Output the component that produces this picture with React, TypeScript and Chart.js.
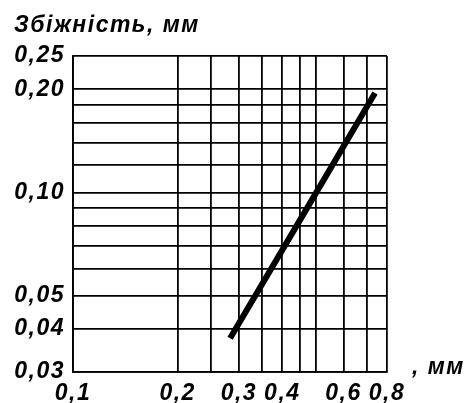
import React, { useEffect, useRef } from "react";
import { Chart, registerables } from "chart.js";

Chart.register(...registerables);

const xGrid = [0.1, 0.2, 0.25, 0.3, 0.35, 0.4, 0.45, 0.5, 0.6, 0.7, 0.8];
const xLabeled = [0.1, 0.2, 0.3, 0.4, 0.6, 0.8];
const yGrid = [0.03, 0.04, 0.05, 0.06, 0.07, 0.08, 0.09, 0.1, 0.12, 0.14, 0.16, 0.18, 0.2, 0.25];
const yLabeled = [0.03, 0.04, 0.05, 0.1, 0.2, 0.25];

const lineX = [0.283, 0.48, 0.739];
const lineY = [0.0376, 0.093, 0.195];

const titleText = "Збіжність, мм";
const xUnitText = ", мм";

const FONT_FAMILY = '"Liberation Sans", Arial, sans-serif';
const FONT_SIZE = 23;
const LETTER_SPACING = "1.5px";

function fmt(v: number, decimals: number) {
  return v.toFixed(decimals).replace(".", ",");
}

export default function App() {
  const ref = useRef<HTMLCanvasElement | null>(null);

  useEffect(() => {
    if (!ref.current) return;
    const spacingPlugin = {
      id: "spacing",
      beforeInit(chart: any) {
        chart.ctx.letterSpacing = LETTER_SPACING;
      },
      beforeUpdate(chart: any) {
        chart.ctx.letterSpacing = LETTER_SPACING;
      },
      beforeDraw(chart: any) {
        chart.ctx.letterSpacing = LETTER_SPACING;
      },
    };
    const textPlugin = {
      id: "texts",
      afterDraw(chart: any) {
        const ctx = chart.ctx;
        ctx.save();
        ctx.letterSpacing = LETTER_SPACING;
        ctx.fillStyle = "#000";
        ctx.font = `italic bold ${FONT_SIZE}px ${FONT_FAMILY}`;
        ctx.textAlign = "left";
        ctx.textBaseline = "alphabetic";
        ctx.fillText(titleText, 14, 32);
        ctx.fillText(xUnitText, 412, 374);
        ctx.restore();
      },
    };
    const tickFont = { family: FONT_FAMILY, size: FONT_SIZE, style: "italic", weight: "bold" };
    const chart = new Chart(ref.current, {
      type: "scatter",
      data: {
        datasets: [
          {
            data: lineX.map((x, i) => ({ x, y: lineY[i] })),
            showLine: true,
            borderColor: "#000",
            backgroundColor: "#000",
            borderWidth: 6,
            pointRadius: 0,
            borderCapStyle: "butt",
          },
        ],
      },
      options: {
        animation: false,
        responsive: false,
        events: [],
        layout: { padding: { top: 56, left: 0, right: 83, bottom: 0 } },
        plugins: { legend: { display: false }, tooltip: { enabled: false }, title: { display: false } },
        scales: {
          x: {
            type: "logarithmic",
            min: 0.1,
            max: 0.8,
            afterBuildTicks: (s: any) => {
              s.ticks = xGrid.map((v) => ({ value: v }));
            },
            afterFit: (s: any) => {
              s.height = 31;
            },
            grid: { color: "#000", lineWidth: 1.8, drawTicks: false },
            border: { display: true, color: "#000", width: 1.8 },
            ticks: {
              autoSkip: false,
              maxRotation: 0,
              padding: 8,
              color: "#000",
              font: tickFont,
              callback: (v: any) => {
                const n = Number(v);
                return xLabeled.some((l) => Math.abs(l - n) < 1e-9) ? fmt(n, 1) : "";
              },
            },
          },
          y: {
            type: "logarithmic",
            min: 0.03,
            max: 0.25,
            afterBuildTicks: (s: any) => {
              s.ticks = yGrid.map((v) => ({ value: v }));
            },
            afterFit: (s: any) => {
              s.width = 73;
            },
            grid: { color: "#000", lineWidth: 1.8, drawTicks: false },
            border: { display: true, color: "#000", width: 1.8 },
            ticks: {
              autoSkip: false,
              padding: 8,
              color: "#000",
              font: tickFont,
              callback: (v: any) => {
                const n = Number(v);
                return yLabeled.some((l) => Math.abs(l - n) < 1e-9) ? fmt(n, 2) : "";
              },
            },
          },
        },
      },
      plugins: [spacingPlugin, textPlugin],
    } as any);
    return () => chart.destroy();
  }, []);

  return (
    <div style={{ position: "fixed", left: 0, top: 0, width: 470, height: 403, background: "#fff" }}>
      <canvas ref={ref} width={470} height={403} style={{ width: 470, height: 403 }} />
    </div>
  );
}
